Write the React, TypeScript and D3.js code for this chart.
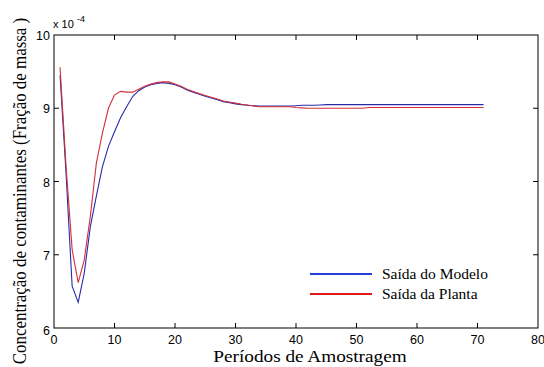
import React from "react";
import * as d3 from "d3";

const periods = Array.from({ length: 71 }, (_, i) => i + 1);
const modelo = [
  9.45, 8.1, 6.57, 6.35, 6.75, 7.38, 7.8, 8.2, 8.48, 8.68,
  8.87, 9.02, 9.16, 9.24, 9.29, 9.32, 9.34, 9.35, 9.34, 9.32,
  9.29, 9.25, 9.22, 9.19, 9.165, 9.14, 9.115, 9.09, 9.075, 9.06,
  9.05, 9.04, 9.035, 9.03, 9.03, 9.03, 9.03, 9.03, 9.03, 9.035,
  9.04, 9.04, 9.04, 9.045, 9.05, 9.05, 9.05, 9.05, 9.05, 9.05,
  9.05, 9.05, 9.05, 9.05, 9.05, 9.05, 9.05, 9.05, 9.05, 9.05,
  9.05, 9.05, 9.05, 9.05, 9.05, 9.05, 9.05, 9.05, 9.05, 9.05, 9.05,
];
const planta = [
  9.56, 8.2, 7.07, 6.62, 6.93, 7.52, 8.25, 8.66, 9.0, 9.18,
  9.23, 9.22, 9.22, 9.26, 9.3, 9.33, 9.35, 9.36, 9.36, 9.33,
  9.3, 9.26, 9.23, 9.2, 9.175, 9.15, 9.125, 9.1, 9.085, 9.07,
  9.055, 9.045, 9.03, 9.02, 9.02, 9.02, 9.02, 9.02, 9.02, 9.01,
  9.005, 9.0, 9.0, 9.0, 9.0, 9.0, 9.0, 9.0, 9.0, 9.0,
  9.0, 9.01, 9.01, 9.01, 9.01, 9.01, 9.01, 9.01, 9.01, 9.01,
  9.01, 9.01, 9.01, 9.01, 9.01, 9.01, 9.01, 9.01, 9.01, 9.01, 9.01,
];
const xTicks = [0, 10, 20, 30, 40, 50, 60, 70, 80];
const yTicks = [6, 7, 8, 9, 10];
const legendLabels = ["Saída do Modelo", "Saída da Planta"];

const W = 544, H = 367;
const L = 54, R = 538, T = 35, B = 328;

export default function App() {
  const x = d3.scaleLinear().domain([0, 80]).range([L, R]);
  const y = d3.scaleLinear().domain([6, 10]).range([B, T]);
  const line = d3.line<number>().x((_, i) => x(periods[i])).y((d) => y(d));
  const tick = 5;
  const sans = "Arial, 'Liberation Sans', sans-serif";
  const serif = "'Times New Roman', 'Liberation Serif', serif";
  return (
    <svg width={W} height={H} style={{ position: "absolute", left: 0, top: 0, background: "#fff" }}>
      <rect x={0} y={0} width={W} height={H} fill="#fff" />
      <path d={line(modelo) || ""} fill="none" stroke="#2a2aa8" strokeWidth={1.1} />
      <path d={line(planta) || ""} fill="none" stroke="#d0303a" strokeWidth={1.1} />
      <rect x={L} y={T} width={R - L} height={B - T} fill="none" stroke="#000" strokeWidth={1} />
      {xTicks.map((t) => (
        <g key={"x" + t}>
          {t > 0 && t < 80 && (
            <>
              <line x1={x(t)} x2={x(t)} y1={B} y2={B - tick} stroke="#000" />
              <line x1={x(t)} x2={x(t)} y1={T} y2={T + tick} stroke="#000" />
            </>
          )}
          <text x={x(t)} y={344} textAnchor="middle" fontFamily={sans} fontSize={12.5} fill="#000">{t}</text>
        </g>
      ))}
      {yTicks.map((t) => (
        <g key={"y" + t}>
          {t > 6 && t < 10 && (
            <>
              <line x1={L} x2={L + tick} y1={y(t)} y2={y(t)} stroke="#000" />
              <line x1={R} x2={R - tick} y1={y(t)} y2={y(t)} stroke="#000" />
            </>
          )}
          <text x={50} y={y(t) + (t === 6 ? 7 : 5)} textAnchor="end" fontFamily={sans} fontSize={12.5} fill="#000">{t}</text>
        </g>
      ))}
      <text x={53} y={28} fontFamily={sans} fontSize={11} fill="#000">x 10</text>
      <text x={77} y={22} fontFamily={sans} fontSize={9} fill="#000">-4</text>
      <text transform="translate(310,362) scale(1.1,1)" textAnchor="middle" fontFamily={serif} fontSize={17.5} fill="#000">Períodos de Amostragem</text>
      <text transform={`translate(26,191) rotate(-90) scale(0.94,1)`} textAnchor="middle" fontFamily={serif} fontSize={18} fill="#000">Concentração de contaminantes (Fração de massa )</text>
      {legendLabels.map((lab, i) => (
        <g key={lab}>
          <line x1={310} x2={372} y1={274 + i * 20} y2={274 + i * 20} stroke={i === 0 ? "#2040e0" : "#e01818"} strokeWidth={2} />
          <text x={382} y={279 + i * 20} fontFamily={serif} fontSize={15.5} fill="#000">{lab}</text>
        </g>
      ))}
    </svg>
  );
}
